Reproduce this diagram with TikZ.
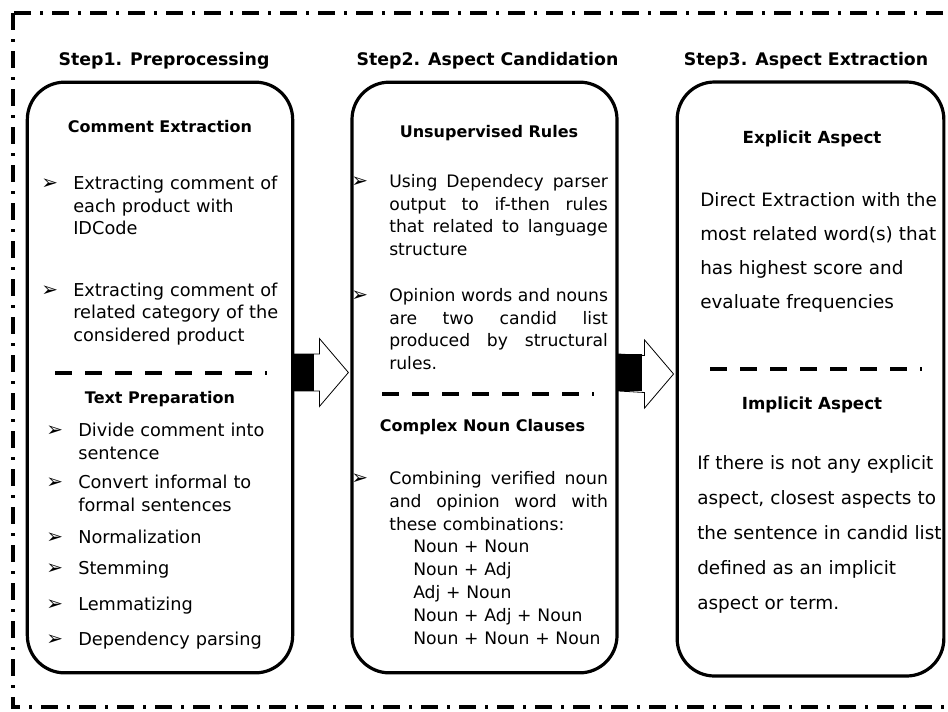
\documentclass[tikz,border=0pt]{standalone}
\usepackage{fontspec}
\setmainfont{DejaVu Sans}
\usepackage{tikz}
\usetikzlibrary{calc}

\newcommand{\jline}[1]{\makebox[164pt][l]{#1}}

\tikzset{
  stepbox/.style={draw, line width=2.4pt, rounded corners=28pt, minimum width=199pt, minimum height=443pt, inner sep=0pt},
  steptitle/.style={font=\bfseries\fontsize{13}{16}\selectfont, anchor=base, inner sep=0pt},
  subhead/.style={font=\bfseries\fontsize{12}{15}\selectfont, anchor=base, inner sep=0pt},
  itemtext/.style={font=\fontsize{13.3}{16.9}\selectfont, anchor=base west, inner sep=0pt, align=left},
  bul/.style={font=\fontsize{15}{16}\selectfont, anchor=base west, inner sep=0pt},
  sepline/.style={line width=2.6pt, dash pattern=on 12.75pt off 9.75pt},
  frameline/.style={line width=2.4pt, dash pattern=on 12.75pt off 6.75pt on 2.25pt off 6.75pt},
  flowarrow/.style={fill=white, draw, line width=0.6pt},
}

\begin{document}
\begin{tikzpicture}[x=0.75pt, y=-0.75pt]
    \useasboundingbox (0,0) rectangle (948,711);
    % outer frame
    \draw[frameline] (13,13) rectangle (962,707);

    % the three steps
    \node[stepbox] (prep) at (160,377.5) {};
    \node[stepbox, minimum width=198.75pt] (cand) at (484.5,377.5) {};
    \node[stepbox, minimum width=200pt, minimum height=445.5pt] (extr) at (810.5,379) {};

    \node[steptitle] (s1) at (164,65) {Step1. Preprocessing};
    \node[steptitle] (s2) at (487.5,65) {Step2. Aspect Candidation};
    \node[steptitle] (s3) at (806,65) {Step3. Aspect Extraction};

    % arrows between the steps
    \foreach \from/\to/\len in {prep/cand/20, cand/extr/23} {
        \coordinate (a) at ($(\from.east)+(0,-5)$);
        \coordinate (b) at ($(\to.west)+(-2,-5)$);
        \draw[flowarrow] ($(a)+(0,-18.5)$) -- ($(b)+(-29,-18.5)$) -- ($(b)+(-29,-34)$)
            -- (b) -- ($(b)+(-29,34)$) -- ($(b)+(-29,18.5)$) -- ($(a)+(0,18.5)$) -- cycle;
        \fill ($(a)+(0,-18.5)$) rectangle ($(a)+(\len,18.5)$);
    }

    % Step1
    \node[subhead] (h11) at (160,132) {Comment Extraction};
    \node[bul] (b11) at (41,189.5) {➢};
    \node[itemtext, text width=165pt] (c1) at (73,189.5) {Extracting comment of\\each product with\\IDCode};
    \node[bul] (b12) at (41,296) {➢};
    \node[itemtext, text width=165pt] (c2) at (73,296) {Extracting comment of\\related category of the\\considered product};
    \draw[sepline] (55,373) -- (266.5,373);
    \node[subhead] (h12) at (160,403) {Text Preparation};
    \node[bul] (b13) at (46,436.5) {➢};
    \node[itemtext, text width=160pt] (p1) at (78,436.5) {Divide comment into\\sentence};
    \node[bul] (b14) at (46,488.5) {➢};
    \node[itemtext, text width=160pt] (p2) at (78,488.5) {Convert informal to\\formal sentences};
    \node[bul] (b15) at (46,543) {➢};
    \node[itemtext, text width=160pt] (p3) at (78,543) {Normalization};
    \node[bul] (b16) at (46,574) {➢};
    \node[itemtext, text width=160pt] (p4) at (78,574) {Stemming};
    \node[bul] (b17) at (46,610) {➢};
    \node[itemtext, text width=160pt] (p5) at (78,610) {Lemmatizing};
    \node[bul] (b18) at (46,645) {➢};
    \node[itemtext, text width=160pt] (p6) at (78,645) {Dependency parsing};

    % Step2
    \node[subhead] (h21) at (489,137.5) {Unsupervised Rules};
    \node[bul] (b21) at (351,187.5) {➢};
    \node[itemtext, font=\fontsize{12.9}{16.9}\selectfont, text width=164pt] (u1) at (389,187.5)
        {\jline{Using\hfill Dependecy\hfill parser}\\\jline{output\hfill to\hfill if-then\hfill rules}\\\jline{that\hfill related\hfill to\hfill language}\\structure};
    \node[bul] (b22) at (351,301.5) {➢};
    \node[itemtext, font=\fontsize{12.9}{16.9}\selectfont, text width=164pt] (u2) at (389,301.5)
        {\jline{Opinion\hfill words\hfill and\hfill nouns}\\\jline{are\hfill two\hfill candid\hfill list}\\\jline{produced\hfill by\hfill structural}\\rules.};
    \draw[sepline] (382,394) -- (593.5,394);
    \node[subhead] (h22) at (482.5,431.5) {Complex Noun Clauses};
    \node[bul] (b23) at (351,484) {➢};
    \node[itemtext, font=\fontsize{12.9}{17.25}\selectfont, text width=164pt] (u3) at (389,484)
        {\jline{Combining\hfill verified\hfill noun}\\\jline{and\hfill opinion\hfill word\hfill with}\\these combinations:};
    \node[itemtext, font=\fontsize{12.9}{17.25}\selectfont, text width=150pt] (cmb) at (413,552)
        {Noun + Noun\\Noun + Adj\\Adj + Noun\\Noun + Adj + Noun\\Noun + Noun + Noun};

    % Step3
    \node[subhead, font=\bfseries\fontsize{12.5}{15}\selectfont] (h31) at (812,143) {Explicit Aspect};
    \node[itemtext, font=\fontsize{13.8}{25.5}\selectfont, text width=185pt] (e1) at (700,206.5)
        {Direct Extraction with the\\most related word(s) that\\has highest score and\\evaluate frequencies};
    \draw[sepline] (710,369) -- (921.5,369);
    \node[subhead, font=\bfseries\fontsize{12.5}{15}\selectfont] (h32) at (812,409.5) {Implicit Aspect};
    \node[itemtext, font=\fontsize{13.8}{26.25}\selectfont, text width=185pt] (i1) at (697,469.5)
        {If there is not any explicit\\aspect, closest aspects to\\the sentence in candid list\\defined as an implicit\\aspect or term.};
\end{tikzpicture}
\end{document}
